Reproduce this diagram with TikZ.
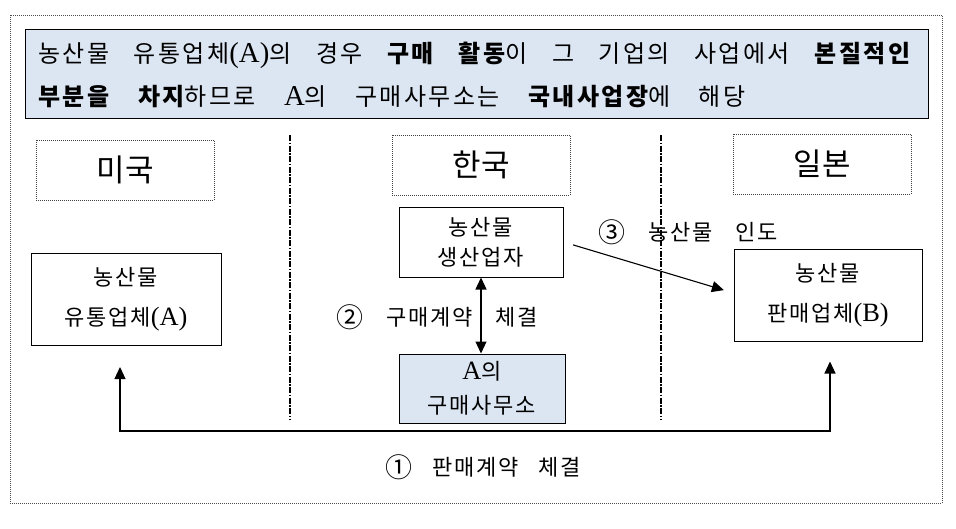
\documentclass[tikz,border=0pt]{standalone}
\usepackage{fontspec}
\setmainfont[Scale=1.2]{Liberation Serif}
\newfontfamily\kr[LetterSpace=10]{Noto Sans CJK KR}
\newfontfamily\krb[LetterSpace=8]{Noto Sans CJK KR}
\newfontfamily\krc{Noto Sans CJK KR}
\usetikzlibrary{arrows.meta,calc}
\definecolor{boxblue}{HTML}{DCE6F2}
\newcommand\La[1]{{\rmfamily #1}}
\newcommand\Circ[1]{{\krc\fontsize{27}{24}\selectfont\raisebox{-1.5pt}{#1}}}
\tikzset{
  dotbox/.style={draw=black!75, dash pattern=on 1pt off 1pt, line width=0.8pt, inner sep=0pt, minimum width=178pt, minimum height=60pt, font=\krc\fontsize{31}{32}\selectfont},
  plainbox/.style={draw, line width=1pt, fill=white, inner sep=0pt, align=center},
  bluebox/.style={plainbox, fill=boxblue},
  bigtxt/.style={font=\krb\fontsize{22}{40}\selectfont},
  lbl/.style={inner sep=0pt, font=\krb\fontsize{22}{24}\selectfont},
  toptxt/.style={anchor=base west, inner sep=0pt, font=\kr\fontsize{24}{42}\selectfont},
  sepline/.style={line width=1.6pt, dash pattern=on 6pt off 1.5pt on 1.5pt off 1.5pt},
  tipa/.tip={Triangle[length=12pt,width=11pt]},
  conn/.style={line width=1.1pt}
}
\begin{document}
\begin{tikzpicture}[x=1pt,y=-1pt]
\useasboundingbox (0,0) rectangle (956,528);
\fill[white] (0,0) rectangle (956,528);
% outer frame
\node[draw=black!70, dash pattern=on 1pt off 1pt, line width=0.8pt, inner sep=0pt, minimum width=932pt, minimum height=488pt] (frame) at (476,259) {};
% top box
\node[draw, line width=1pt, fill=boxblue, inner sep=0pt, minimum width=903pt, minimum height=89pt] (top) at (476.5,73.5) {};
\node[toptxt] (l1) at (38,62.5)
  {\makebox[872pt][s]{농산물 유통업체\La{(A)}의 경우 {\bfseries 구매 활동}이 그 기업의 사업에서 {\bfseries 본질적인}}};
\node[toptxt] (l2) at (38,105)
  {\makebox[707pt][s]{{\bfseries 부분을 차지}하므로 \La{A}의 구매사무소는 {\bfseries 국내사업장}에 해당}};
% country boxes
\node[dotbox] (us) at (125,170) {미국};
\node[dotbox] (kr) at (481,165) {한국};
\node[dotbox] (jp) at (822,164) {일본};
% separators
\coordinate (s1t) at (290,135); \coordinate (s1b) at (290,420);
\coordinate (s2t) at (661,135); \coordinate (s2b) at (661,420);
\draw[sepline] (s1t) -- (s1b);
\draw[sepline] (s2t) -- (s2b);
% boxes
\node[plainbox, bigtxt, minimum width=190pt, minimum height=92pt] (A) at (126,299.5) {농산물\\유통업체\La{(A)}};
\node[plainbox, minimum width=164pt, minimum height=70pt, font=\krb\fontsize{22}{30}\selectfont] (P) at (481,242) {농산물\\생산업자};
\node[bluebox, minimum width=166pt, minimum height=69pt, font=\krb\fontsize{22}{34}\selectfont] (O) at (482,388.5) {\La{A}의\\구매사무소};
\node[plainbox, bigtxt, minimum width=188pt, minimum height=92pt] (B) at (828,295) {농산물\\판매업체\La{(B)}};
% labels
\node[lbl, anchor=west] (t3) at (598,232) {\makebox[180pt][s]{\Circ{③} 농산물 인도}};
\node[lbl, anchor=west] (t2) at (336,317) {\makebox[202pt][s]{\Circ{②} 구매계약 체결}};
\node[lbl, anchor=west] (t1) at (385,467) {\makebox[196pt][s]{\Circ{①} 판매계약 체결}};
% connectors
\draw[conn, -tipa, shorten <=10pt, shorten >=10pt] (P.east) -- ([yshift=2pt]B.west);
\draw[conn, tipa-tipa] (P.south -| 481,0) -- (O.north -| 481,0);
\coordinate (br) at (830,431);
\draw[conn, tipa-tipa] ([xshift=-6pt,yshift=-21pt]A.south) |- (br) -- ([xshift=2pt,yshift=-20pt]B.south);
\end{tikzpicture}
\end{document}
